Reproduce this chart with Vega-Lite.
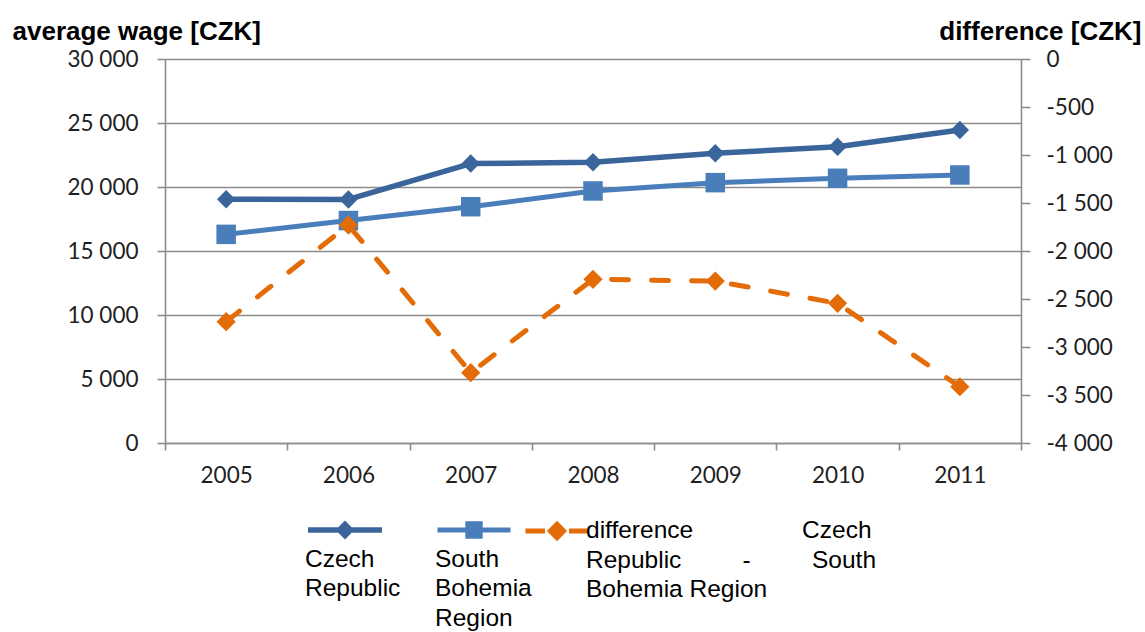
{
  "$schema": "https://vega.github.io/schema/vega-lite/v6.json",
  "width": 856,
  "height": 384,
  "autosize": {"type": "none"},
  "padding": {"left": 165, "top": 59, "right": 124, "bottom": 189},
  "background": "white",
  "data": {
    "values": [
      {"year": "2005", "series": "Czech Republic", "value": 19050},
      {"year": "2006", "series": "Czech Republic", "value": 19030},
      {"year": "2007", "series": "Czech Republic", "value": 21830},
      {"year": "2008", "series": "Czech Republic", "value": 21930},
      {"year": "2009", "series": "Czech Republic", "value": 22630},
      {"year": "2010", "series": "Czech Republic", "value": 23150},
      {"year": "2011", "series": "Czech Republic", "value": 24450},
      {"year": "2005", "series": "South Bohemia Region", "value": 16300},
      {"year": "2006", "series": "South Bohemia Region", "value": 17380},
      {"year": "2007", "series": "South Bohemia Region", "value": 18460},
      {"year": "2008", "series": "South Bohemia Region", "value": 19690},
      {"year": "2009", "series": "South Bohemia Region", "value": 20340},
      {"year": "2010", "series": "South Bohemia Region", "value": 20680},
      {"year": "2011", "series": "South Bohemia Region", "value": 20940},
      {"year": "2005", "series": "difference Czech Republic - South Bohemia Region", "value": -2736},
      {"year": "2006", "series": "difference Czech Republic - South Bohemia Region", "value": -1730},
      {"year": "2007", "series": "difference Czech Republic - South Bohemia Region", "value": -3268},
      {"year": "2008", "series": "difference Czech Republic - South Bohemia Region", "value": -2295},
      {"year": "2009", "series": "difference Czech Republic - South Bohemia Region", "value": -2313},
      {"year": "2010", "series": "difference Czech Republic - South Bohemia Region", "value": -2545},
      {"year": "2011", "series": "difference Czech Republic - South Bohemia Region", "value": -3414}
    ]
  },
  "config": {
    "view": {"stroke": null},
    "font": "Lato",
    "axis": {
      "domainColor": "#8c8c8c",
      "domainWidth": 1.6,
      "tickColor": "#8c8c8c",
      "tickWidth": 1.6,
      "gridColor": "#8c8c8c",
      "gridWidth": 1.6,
      "labelFont": "Lato",
      "labelFontSize": 22.5,
      "labelColor": "#1f1f1f",
      "titleFont": "Liberation Sans",
      "titleFontSize": 26,
      "titleFontWeight": "bold",
      "titleColor": "#000000"
    },
    "legend": {
      "labelFont": "Liberation Sans",
      "labelFontSize": 24.5,
      "labelColor": "#000000",
      "labelLimit": 0,
      "labelBaseline": "middle",
      "padding": 0,
      "offset": 0
    },
    "style": {"guide-label": {"lineHeight": 29.5}}
  },
  "encoding": {
    "x": {
      "field": "year",
      "type": "ordinal",
      "scale": {"type": "band", "paddingInner": 0, "paddingOuter": 0},
      "axis": {
        "title": null,
        "labelAngle": 0,
        "tickBand": "extent",
        "tickSize": 7,
        "labelPadding": 14,
        "grid": false
      }
    }
  },
  "layer": [
    {
      "transform": [{"filter": "datum.series === 'Czech Republic'"}],
      "encoding": {
        "y": {
          "field": "value",
          "type": "quantitative",
          "scale": {"domain": [0, 30000], "nice": false, "zero": false},
          "axis": {
            "values": [0, 5000, 10000, 15000, 20000, 25000, 30000],
            "grid": true,
            "tickSize": 8,
            "labelPadding": 19,
            "labelExpr": "replace(format(datum.value, ','), ',', ' ')",
            "title": "average wage [CZK]",
            "titleAngle": 0,
            "titleAlign": "left",
            "titleBaseline": "alphabetic",
            "titleX": -153,
            "titleY": -20
          }
        }
      },
      "layer": [
        {"mark": {"type": "line", "color": "#3a659b", "strokeWidth": 5.5, "strokeJoin": "round"}},
        {
          "mark": {"type": "point", "shape": "diamond", "filled": true, "size": 340, "opacity": 1},
          "encoding": {
            "color": {
              "field": "series",
              "type": "nominal",
              "scale": {"domain": ["Czech Republic"], "range": ["#3a659b"]},
              "legend": {
                "orient": "none",
                "legendX": 140,
                "legendY": 431,
                "title": null,
                "symbolType": "M-1,0H1M0,-0.15L0.15,0L0,0.15L-0.15,0Z",
                "symbolSize": 5476,
                "symbolStrokeColor": "#3a659b",
                "symbolStrokeWidth": 5.5,
                "labelOffset": -80,
                "labelExpr": "split(' ' + datum.label, ' ')"
              }
            }
          }
        }
      ]
    },
    {
      "transform": [{"filter": "datum.series === 'South Bohemia Region'"}],
      "encoding": {
        "y": {
          "field": "value",
          "type": "quantitative",
          "scale": {"domain": [0, 30000], "nice": false, "zero": false},
          "axis": null
        }
      },
      "layer": [
        {"mark": {"type": "line", "color": "#4a7ebb", "strokeWidth": 5, "strokeJoin": "round"}},
        {
          "mark": {"type": "point", "shape": "square", "filled": true, "size": 380, "opacity": 1},
          "encoding": {
            "color": {
              "field": "series",
              "type": "nominal",
              "scale": {"domain": ["South Bohemia Region"], "range": ["#4a7ebb"]},
              "legend": {
                "orient": "none",
                "legendX": 270,
                "legendY": 432,
                "title": null,
                "symbolType": "M-1,0H1M-0.17,-0.17H0.17V0.17H-0.17Z",
                "symbolSize": 5329,
                "symbolStrokeColor": "#4a7ebb",
                "symbolStrokeWidth": 5,
                "labelOffset": -78,
                "labelExpr": "split(' ' + datum.label, ' ')"
              }
            }
          }
        }
      ]
    },
    {
      "transform": [{"filter": "datum.series !== 'Czech Republic' && datum.series !== 'South Bohemia Region'"}],
      "encoding": {
        "y": {
          "field": "value",
          "type": "quantitative",
          "scale": {"domain": [-4000, 0], "nice": false, "zero": false},
          "axis": {
            "orient": "right",
            "values": [-4000, -3500, -3000, -2500, -2000, -1500, -1000, -500, 0],
            "grid": false,
            "tickSize": 9,
            "labelPadding": 16,
            "labelExpr": "(datum.value < 0 ? '-' : '') + replace(format(abs(datum.value), ','), ',', ' ')",
            "title": "difference [CZK]",
            "titleAngle": 0,
            "titleAlign": "right",
            "titleBaseline": "alphabetic",
            "titleX": 120,
            "titleY": -20
          }
        }
      },
      "layer": [
        {"mark": {"type": "line", "color": "#e36c09", "strokeWidth": 5, "strokeDash": [17, 23], "strokeCap": "round", "strokeJoin": "round"}},
        {
          "mark": {"type": "point", "shape": "diamond", "filled": true, "size": 370, "opacity": 1},
          "encoding": {
            "color": {
              "field": "series",
              "type": "nominal",
              "scale": {"domain": ["difference Czech Republic - South Bohemia Region"], "range": ["#e36c09"]},
              "legend": {
                "orient": "none",
                "legendX": 358,
                "legendY": 438,
                "title": null,
                "symbolType": "M-1,0H-0.38M0.38,0H1M0,-0.21L0.21,0L0,0.21L-0.21,0Z",
                "symbolSize": 3969,
                "symbolStrokeColor": "#e36c09",
                "symbolStrokeWidth": 5,
                "labelOffset": -5,
                "labelExpr": "['difference\u00a0\u00a0\u00a0\u00a0\u00a0\u00a0\u00a0\u00a0\u00a0\u00a0\u00a0\u00a0\u00a0\u00a0\u00a0\u00a0Czech', 'Republic\u00a0\u00a0\u00a0\u00a0\u00a0\u00a0\u00a0\u00a0\u00a0-\u00a0\u00a0\u00a0\u00a0\u00a0\u00a0\u00a0\u00a0\u00a0South', 'Bohemia Region']"
              }
            }
          }
        }
      ]
    }
  ],
  "resolve": {"scale": {"y": "independent", "color": "independent"}}
}
